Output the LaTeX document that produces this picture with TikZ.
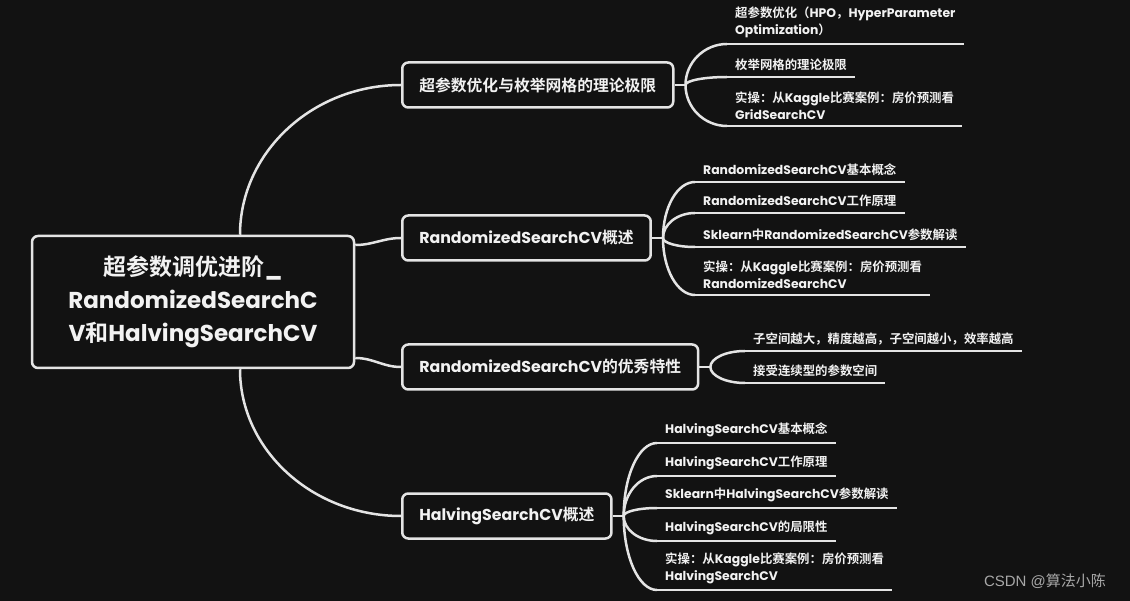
\documentclass[tikz,border=0pt]{standalone}
\usepackage{fontspec}
\usetikzlibrary{calc}
\setmainfont{Poppins}
\newfontfamily\cjk{Noto Sans CJK SC}[BoldFont={* Bold}]
\newfontfamily\markfont{Liberation Sans}
\newcommand{\zh}[1]{{\cjk #1}}
\definecolor{bgcol}{HTML}{121212}
\definecolor{linecol}{HTML}{E4E4E4}
\definecolor{txtcol}{HTML}{F2F2F2}
\definecolor{markcol}{HTML}{A8A8A8}
\tikzstyle{rootbox}=[draw=linecol,line width=2.5pt,rounded corners=6pt,fill=bgcol,text=txtcol,font=\bfseries\fontsize{23}{33}\selectfont,align=center,minimum width=322pt,minimum height=132pt,inner sep=0pt]
\tikzstyle{topic}=[draw=linecol,line width=2.5pt,rounded corners=6pt,fill=bgcol,text=txtcol,font=\bfseries\fontsize{15.8}{18}\selectfont,minimum height=45pt,inner xsep=17pt,anchor=west]
\tikzstyle{leaf}=[text=txtcol,font=\bfseries\fontsize{12.4}{17}\selectfont,align=left,inner xsep=8pt,inner ysep=6pt,anchor=south west]
\tikzstyle{edge}=[draw=linecol,line width=2.5pt]
\tikzset{branch/.style={to path={.. controls ($(\tikztostart)!0.55!(\tikztostart |- \tikztotarget)$) and ($(\tikztotarget)!0.55!(\tikztostart |- \tikztotarget)$) .. (\tikztotarget)}}}

\begin{document}
\begin{tikzpicture}[x=1pt,y=-1pt]
    \fill[bgcol] (0,0) rectangle (1130,601);
    \useasboundingbox (0,0) rectangle (1130,601);

    % The central topic
    \node[rootbox] (root) at (193,302) {\zh{超参数调优进阶}\_\\RandomizedSearchC\\V\zh{和}HalvingSearchCV};

    % The four main topics
    \foreach \pos/\name/\txt in {{(401,85)/t1/\zh{超参数优化与枚举网格的理论极限}}, {(401,238)/t2/RandomizedSearchCV\zh{概述}}, {(401,367)/t3/RandomizedSearchCV\zh{的优秀特性}}, {(401,516)/t4/HalvingSearchCV\zh{概述}}}
        \node[topic] (\name) at \pos {\txt};

    % Connect the central topic with the main topics
    \path[edge] ([xshift=47pt]root.north) to[branch] (t1.west);
    \path[edge] ([yshift=57pt]root.east) to[out=0,in=180] (t2.west);
    \path[edge] ([yshift=-56pt]root.east) to[out=0,in=180] (t3.west);
    \path[edge] ([xshift=47pt]root.south) to[branch] (t4.west);

    % Fork points right of the main topics
    \foreach \name in {t1,t2,t3,t4}
        \coordinate (f\name) at ($(\name.east)+(11,0)$);

    % The subtopics, each standing on its own line
    \foreach \pos/\name/\txt in {{(727,44)/l11/{\zh{超参数优化（}HPO\zh{，}HyperParameter\\Optimization\zh{）}}},
        {(727,77)/l12/\zh{枚举网格的理论极限}},
        {(727,126)/l13/{\zh{实操：从}Kaggle\zh{比赛案例：房价预测看}\\GridSearchCV}},
        {(695,182)/l21/RandomizedSearchCV\zh{基本概念}},
        {(695,213)/l22/RandomizedSearchCV\zh{工作原理}},
        {(695,247)/l23/Sklearn\zh{中}RandomizedSearchCV\zh{参数解读}},
        {(695,295)/l24/{\zh{实操：从}Kaggle\zh{比赛案例：房价预测看}\\RandomizedSearchCV}},
        {(745,351)/l31/\zh{子空间越大，精度越高，子空间越小，效率越高}},
        {(745,383)/l32/\zh{接受连续型的参数空间}},
        {(657,443)/l41/HalvingSearchCV\zh{基本概念}},
        {(657,476)/l42/HalvingSearchCV\zh{工作原理}},
        {(657,508)/l43/Sklearn\zh{中}HalvingSearchCV\zh{参数解读}},
        {(657,541)/l44/HalvingSearchCV\zh{的局限性}},
        {(657,590)/l45/{\zh{实操：从}Kaggle\zh{比赛案例：房价预测看}\\HalvingSearchCV}}}
        \node[leaf] (\name) at \pos {\txt};

    % Connect the main topics with their subtopics
    \foreach \name in {t1,t2,t3,t4}
        \path[edge] (\name.east) -- (f\name);
    \foreach \source/\dest in {ft1/l11, ft1/l12, ft1/l13, ft2/l21, ft2/l22, ft2/l23, ft2/l24, ft3/l31, ft3/l32, ft4/l41, ft4/l42, ft4/l43, ft4/l44, ft4/l45}
        \path[edge] (\source) to[branch] (\dest.south west);
    \foreach \name in {l11,l12,l13,l21,l22,l23,l24,l31,l32,l41,l42,l43,l44,l45}
        \path[edge] (\name.south west) -- (\name.south east);

    % Watermark
    \node[text=markcol,font=\markfont\fontsize{15}{18}\selectfont] (mark) at (1045,581) {CSDN @\zh{算法小陈}};
\end{tikzpicture}
\end{document}
